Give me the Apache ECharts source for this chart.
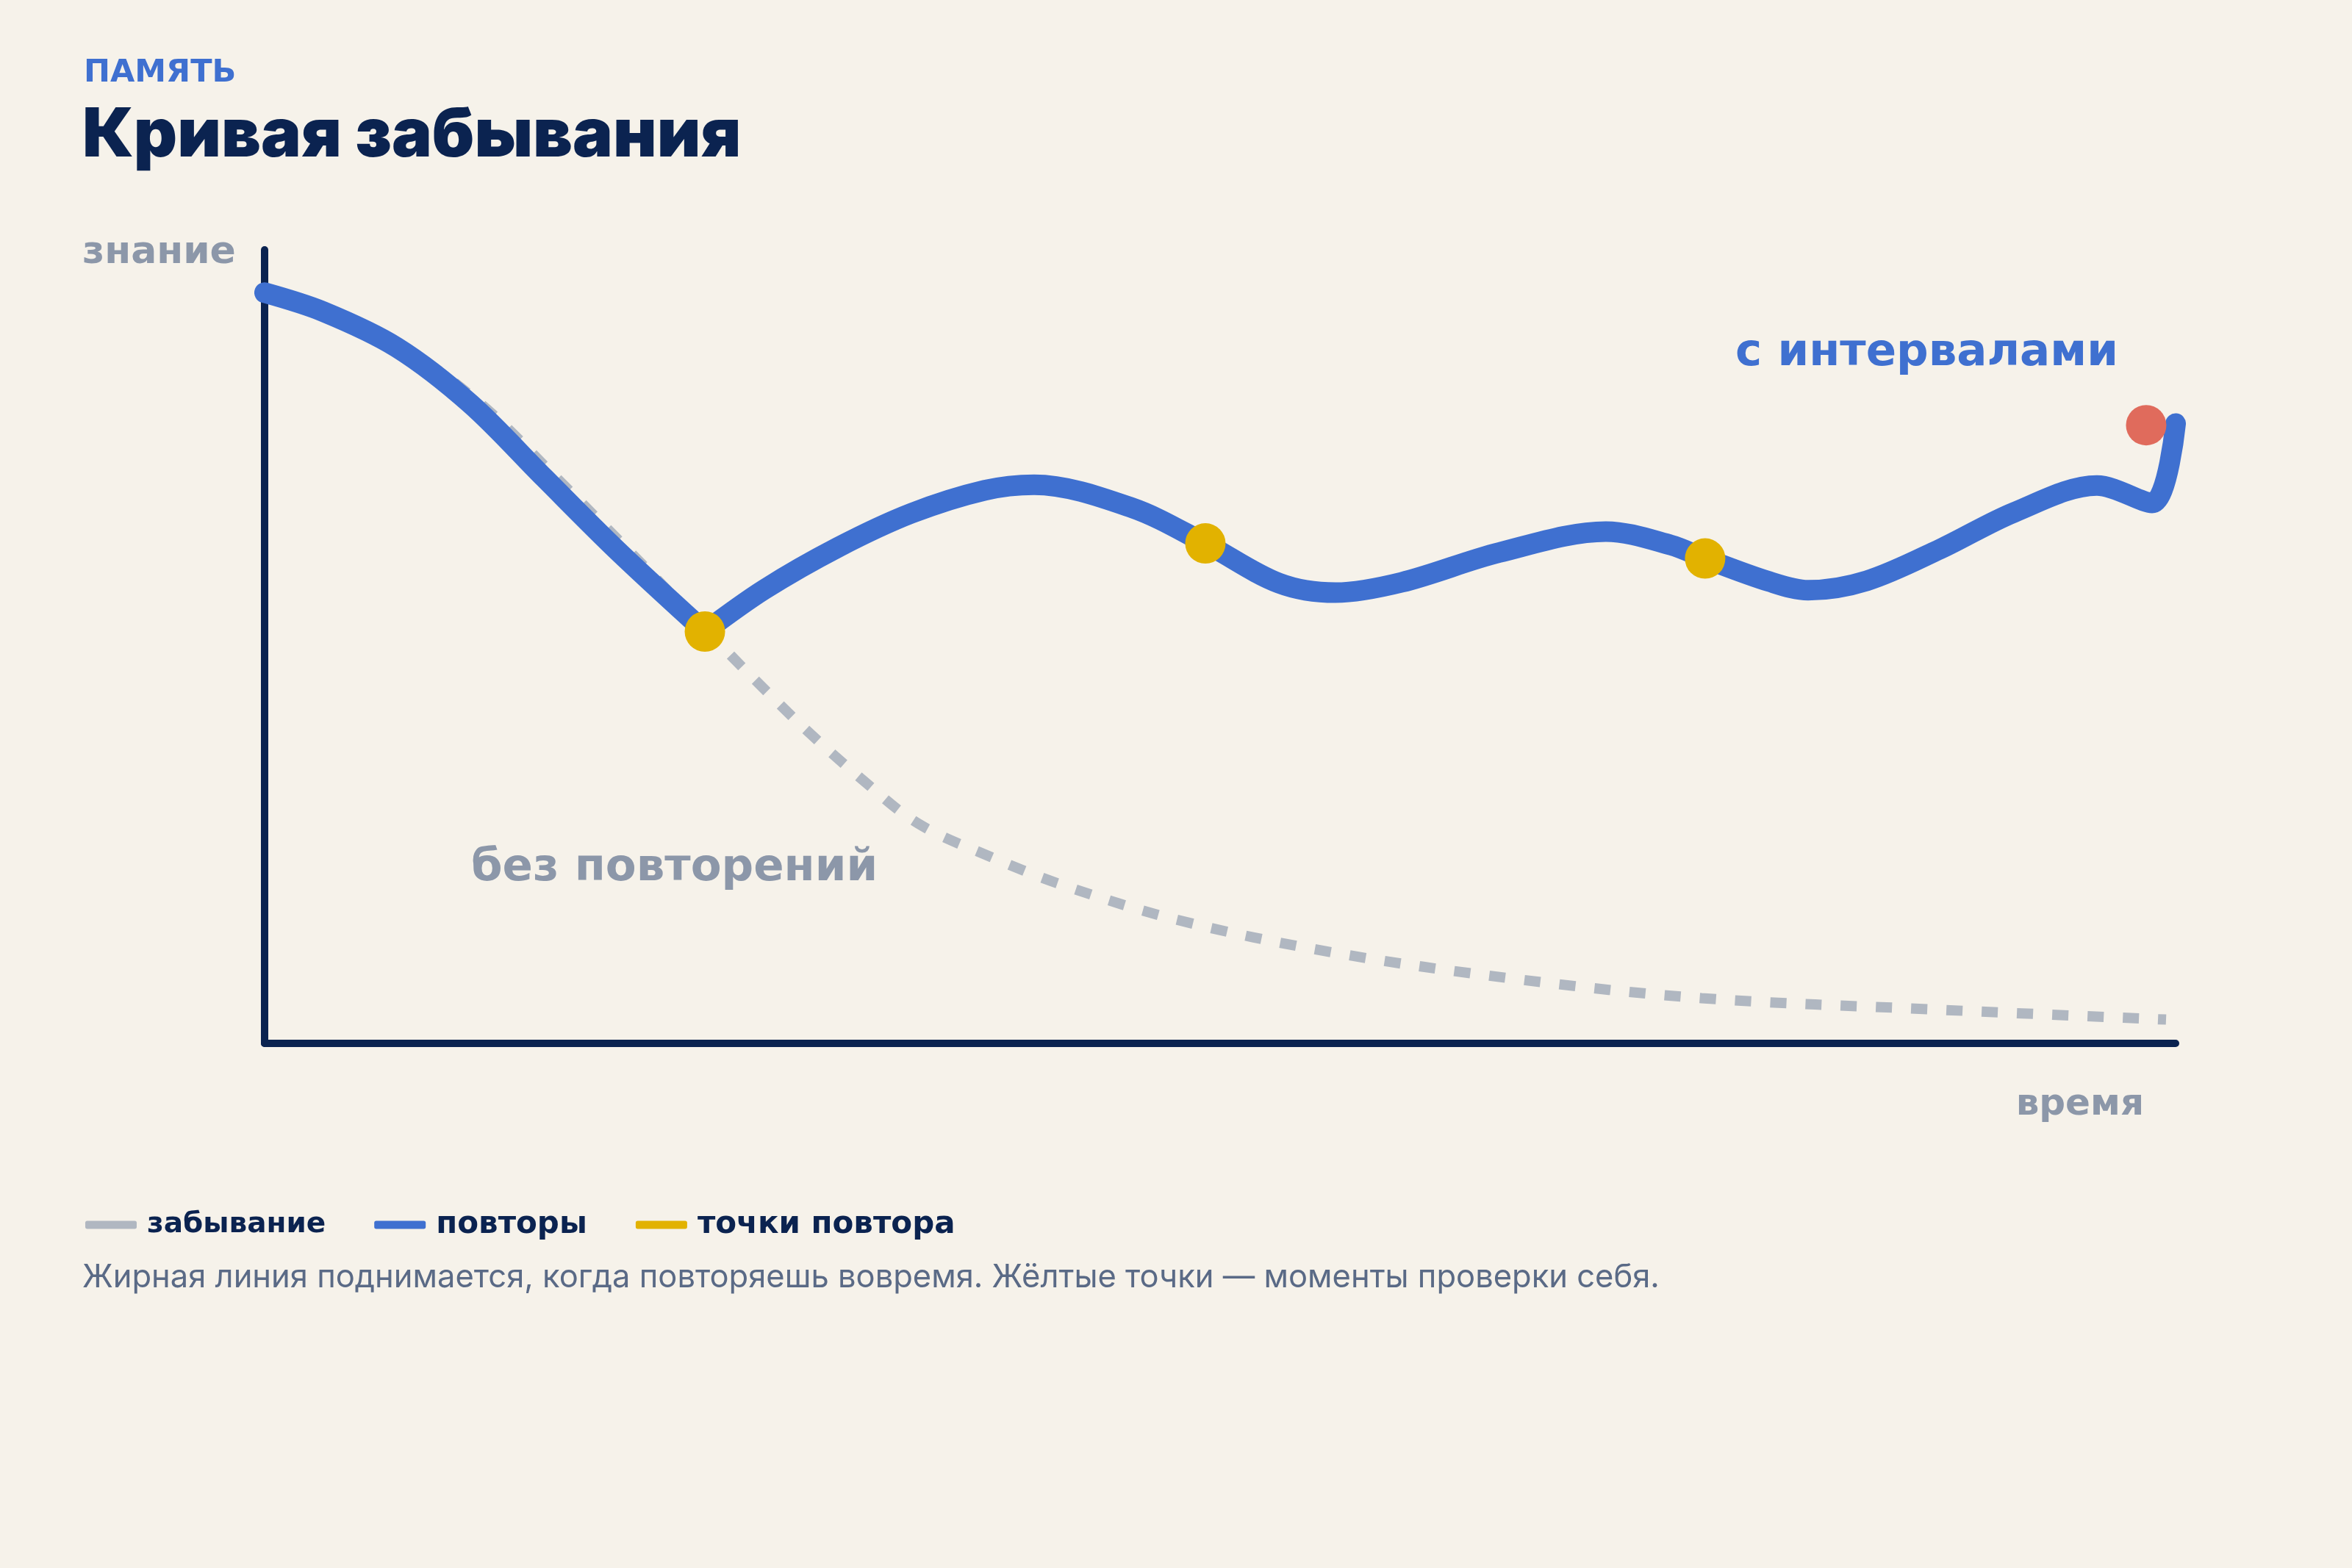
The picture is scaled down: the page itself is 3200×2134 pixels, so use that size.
<!DOCTYPE html>
<html><head><meta charset="utf-8">
<script src="https://cdn.jsdelivr.net/npm/echarts@6/dist/echarts.min.js"></script>
<style>html,body{margin:0;padding:0;background:#f6f2ea;} #c{width:3200px;height:2134px;}</style>
</head><body><div id="c"></div>
<script>
// ---- data (x: time 0..100, y: knowledge 0..100) ----
// blue line: decay until the first review, then the review curve
const reviewHead = [[0,94.6],[3.08,92.2],[6.92,87.7],[10.77,80.6],[14.62,71.3],[18.46,62.1],[23.04,51.9]];
const reviewTail = [[23.04,51.9],[26.15,57.2],[30.0,62.5],[33.85,66.8],[37.69,69.7],[40.27,70.4],[45.38,67.5],[49.23,63.0],[53.08,58.0],[56.04,56.8],[59.5,58.1],[64.6,61.85],[70.19,64.5],[73.58,62.8],[75.38,61.1],[78.73,58.2],[80.77,57.1],[83.85,58.3],[87.69,62.3],[91.54,66.9],[95.88,70.3],[98.77,68.1],[100,78.1]];
// grey dashed line: forgetting without reviews
const forgetData = [[0,94.6],[3.2,92.1],[7.3,87.6],[11.4,80.4],[15.3,71.2],[19.1,62.0],[23.3,51.6],[25.5,46.2],[28.3,39.6],[31.2,33.4],[34.2,27.7],[38.0,23.5],[41.7,20.0],[47.7,15.6],[55.8,11.5],[65.5,8.1],[75.2,5.7],[87.1,4.3],[99.5,3.0]];
const reviewPoints = [[23.04,51.9],[49.23,63.0],[75.38,61.1]];
const nowPoint = [[98.46,77.9]];
const legendNames = ['забывание','повторы','точки повтора'];
const texts = {
  kicker: 'ПАМЯТЬ',
  title: 'Кривая забывания',
  yName: 'знание',
  xName: 'время',
  withIntervals: 'с интервалами',
  noReview: 'без повторений',
  caption: 'Жирная линия поднимается, когда повторяешь вовремя. Жёлтые точки — моменты проверки себя.'
};

const BG='#f6f2ea', NAVY='#0b2350', BLUE='#3f70d0', GREY_LINE='#b0b7c1', GREY_TEXT='#8c97a9', YELLOW='#e2b200', RED='#e06b5c', CAPTION='#5a6a86';
const LABEL_FONT = '"DejaVu Sans"';
const legendSizes = [39, 42, 42];

// a gap between the decay and the review part keeps the corner at the first review sharp
const reviewData = reviewHead.concat([[reviewHead[reviewHead.length-1][0], '-']], reviewTail);

const chart = echarts.init(document.getElementById('c'), null, {renderer:'canvas'});
const txt = (t, x, y, font, fill, align) => ({type:'text', x:x, y:y, z:10, style:{text:t, font:font, fill:fill, textAlign:align||'left', textVerticalAlign:'middle'}});

chart.setOption({
  backgroundColor: BG,
  animation: false,
  grid: {left:360, right:240, top:340, bottom:714, containLabel:false},
  xAxis: {type:'value', min:0, max:100, axisLine:{show:true, onZero:false, lineStyle:{color:NAVY, width:10}}, axisTick:{show:false}, axisLabel:{show:false}, splitLine:{show:false}},
  yAxis: {type:'value', min:0, max:100, axisLine:{show:true, onZero:false, lineStyle:{color:NAVY, width:10}}, axisTick:{show:false}, axisLabel:{show:false}, splitLine:{show:false}},
  legend: {
    data: legendNames.map((n, i) => ({name: n, textStyle: {fontSize: legendSizes[i]}})),
    left: 111, top: 1641, icon: 'roundRect', itemWidth: 70, itemHeight: 11, itemGap: 66,
    selectedMode: false,
    textStyle: {color: NAVY, fontSize: 40, fontWeight: 'bold', fontFamily: 'DejaVu Sans', padding:[0,0,0,9]}
  },
  series: [
    {name:'забывание', type:'line', data: forgetData, smooth:0.35, showSymbol:false, clip:false,
     color: GREY_LINE, itemStyle:{color:GREY_LINE},
     lineStyle:{color:GREY_LINE, width:14, type:[22,26], cap:'butt'}, z:2},
    {name:'повторы', type:'line', data: reviewData, smooth:0.33, showSymbol:false, clip:false, connectNulls:false,
     color: BLUE, itemStyle:{color:BLUE},
     lineStyle:{color:BLUE, width:28, cap:'round', join:'round'}, z:3},
    {name:'точки повтора', type:'scatter', data: reviewPoints, symbolSize:55, clip:false,
     itemStyle:{color:YELLOW, opacity:1}, z:4},
    {name:'сейчас', type:'scatter', data: nowPoint, symbolSize:55, clip:false,
     itemStyle:{color:RED, opacity:1}, z:4}
  ],
  graphic: [
    txt(texts.kicker, 114, 100, 'bold 43px ' + LABEL_FONT, BLUE),
    txt(texts.title, 112, 185, '900 92px Inter', NAVY),
    txt(texts.yName, 112, 344, 'bold 52px ' + LABEL_FONT, GREY_TEXT),
    txt(texts.xName, 2917, 1504, 'bold 50px ' + LABEL_FONT, GREY_TEXT, 'right'),
    txt(texts.withIntervals, 2361, 481, 'bold 61px ' + LABEL_FONT, BLUE),
    txt(texts.noReview, 641, 1182, 'bold 61px ' + LABEL_FONT, GREY_TEXT),
    txt(texts.caption, 112, 1739, '400 43.5px Inter', CAPTION)
  ]
});
</script></body></html>
